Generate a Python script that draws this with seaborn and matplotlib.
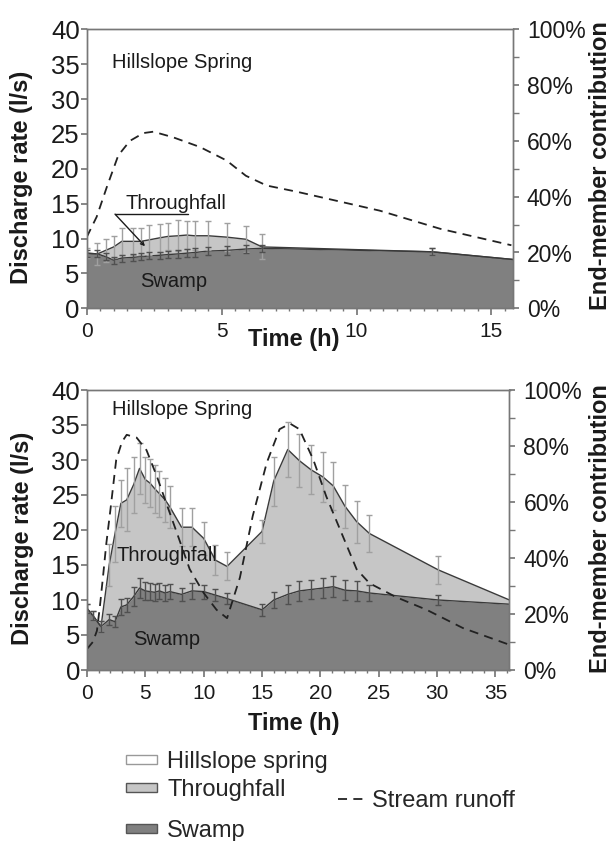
import numpy as np
import pandas as pd
import matplotlib
matplotlib.use("Agg")
import matplotlib.pyplot as plt
import seaborn as sns
from matplotlib.patches import Patch
from matplotlib.lines import Line2D
from matplotlib.ticker import MultipleLocator, FuncFormatter

# ---- data: event 1 (upper panel) ----
top_time = [0, 0.4, 0.7, 1.0, 1.3, 1.7, 2.0, 2.3, 2.7, 3.0, 3.4, 3.7, 4.0, 4.5, 5.2, 5.9, 6.5, 12.8, 15.8]
top_swamp = [7.9, 7.8, 7.4, 6.9, 7.2, 7.3, 7.4, 7.5, 7.6, 7.7, 7.8, 7.9, 8.0, 8.2, 8.3, 8.5, 8.6, 8.1, 7.0]
top_swamp_err = [0.5, 0.5, 0.5, 0.5, 0.5, 0.5, 0.5, 0.5, 0.5, 0.5, 0.6, 0.6, 0.6, 0.6, 0.6, 0.6, 0.5, 0.5, 0]
top_through = [7.9, 7.8, 8.3, 8.8, 9.6, 9.6, 9.6, 9.8, 10.1, 10.3, 10.4, 10.5, 10.4, 10.4, 10.2, 9.9, 8.8, 8.1, 7.0]
top_through_err = [0.7, 1.6, 1.6, 1.6, 1.9, 1.9, 1.9, 2.1, 2.0, 1.9, 2.2, 2.0, 2.1, 2.1, 2.0, 1.9, 1.8, 0.5, 0]
top_runoff_time = [0, 0.37, 0.74, 1.17, 1.6, 2.1, 2.47, 3.2, 4.2, 5.18, 5.9, 6.67, 7.78, 10.86, 13.1, 15.74]
top_runoff = [25.5, 32.8, 43.3, 54.8, 60, 62.8, 63.3, 61.3, 57.8, 53, 47.5, 44, 41.8, 35, 28.5, 22.6]

# ---- data: event 2 (lower panel) ----
bot_time = [0, 0.5, 1.2, 1.9, 2.4, 2.9, 3.4, 4.0, 4.5, 5.0, 5.4, 5.8, 6.2, 6.7, 7.1, 8.1, 9.0, 10.0,
            11.0, 12.0, 15.0, 16.0, 17.2, 18.2, 19.2, 20.2, 21.1, 22.1, 23.1, 24.2, 30.1, 36.2]
bot_swamp = [8.8, 7.8, 6.2, 7.2, 6.9, 9.0, 9.3, 10.5, 11.7, 11.3, 11.2, 11.1, 11.3, 11.0, 11.2, 10.8, 11.3, 11.2,
             10.7, 10.2, 8.6, 10.0, 10.8, 11.3, 11.5, 11.7, 11.9, 11.4, 11.3, 11.0, 10.0, 9.4]
bot_swamp_err = [0.6, 0.6, 0.8, 0.8, 0.8, 1.1, 1.0, 1.3, 1.4, 1.3, 1.2, 1.2, 1.2, 1.2, 1.1, 0.9, 1.1, 1.0,
                 0.9, 0.8, 0.9, 1.1, 1.4, 1.4, 1.4, 1.4, 1.5, 1.4, 1.4, 1.2, 0.7, 0]
bot_through = [8.8, 7.8, 6.2, 15.0, 19.5, 23.8, 24.3, 26.5, 28.8, 27.2, 26.7, 25.9, 25.2, 24.3, 23.3, 20.4, 20.4, 18.8,
               15.7, 14.8, 19.8, 27.0, 31.5, 29.9, 28.6, 27.6, 26.3, 23.4, 21.2, 19.5, 14.3, 10.0]
bot_through_err = [0.6, 0.6, 0.8, 3.0, 4.0, 3.4, 4.5, 4.0, 3.7, 3.3, 3.4, 3.4, 3.3, 3.1, 3.0, 2.7, 2.7, 2.4,
                   2.1, 2.0, 1.7, 3.5, 3.9, 3.8, 3.5, 3.6, 3.4, 3.1, 3.0, 2.6, 2.0, 0]
bot_runoff_time = [0, 0.5, 0.85, 1.1, 1.4, 1.65, 2.0, 2.5, 3.0, 3.4, 4.25, 5.1, 6.0, 6.8, 7.7, 8.8, 10.0, 11.1,
                   12.0, 13.1, 14.2, 15.4, 16.5, 17.4, 18.2, 19.4, 20.5, 21.7, 23.1, 24.2, 26.5, 29.1, 32.2, 36.2]
bot_runoff = [7.5, 10, 14, 22.5, 34.5, 45, 57, 75, 81.5, 84, 83, 78.5, 69, 59.5, 49, 36, 27.5, 21.5,
              18.5, 33, 55, 74, 86, 88, 86, 75, 62, 50, 36, 31, 26, 21.5, 15, 9]

legend_labels = ["Hillslope spring", "Throughfall", "Swamp"]

DARK = "#808080"
LIGHT = "#c6c6c6"
SPINE = "#777777"
INK = "#1a1a1a"
DASH = (0, (5, 3.5))

sns.set_theme(style="ticks")
plt.rcParams['font.family'] = ['Liberation Sans', 'DejaVu Sans']

fig = plt.figure(figsize=(6.12, 8.41), dpi=100)
ax_top = fig.add_axes([86.7 / 612, 1 - 308.3 / 841, 426.3 / 612, 279 / 841])
ax_bot = fig.add_axes([87 / 612, 1 - 670 / 841, 422.5 / 612, 280 / 841])


def draw_panel(ax, t, swamp, s_err, through, t_err, rt, rv, xmax, minor):
    t = np.array(t)
    swamp = np.array(swamp)
    through = np.array(through)
    s_err = np.array(s_err)
    t_err = np.array(t_err)

    ax.fill_between(t, 0, swamp, color=DARK, lw=0, zorder=1)
    ax.fill_between(t, swamp, through, color=LIGHT, lw=0, zorder=1)
    sns.lineplot(x=t, y=through, ax=ax, color="#3a3a3a", lw=1, zorder=2)
    sns.lineplot(x=t, y=swamp, ax=ax, color="#3a3a3a", lw=1, zorder=2)

    m = t_err > 0
    ax.errorbar(t[m], through[m], yerr=t_err[m], fmt="none", ecolor="#a0a0a0",
                elinewidth=1, capsize=2, capthick=1, zorder=3)
    m = s_err > 0
    ax.errorbar(t[m], swamp[m], yerr=s_err[m], fmt="none", ecolor="#505050",
                elinewidth=1, capsize=2, capthick=1, zorder=3)

    ax.set_xlim(0, xmax)
    ax.set_ylim(0, 40)
    ax.xaxis.set_major_locator(MultipleLocator(5))
    ax.xaxis.set_minor_locator(MultipleLocator(minor))
    ax.yaxis.set_major_locator(MultipleLocator(5))
    ax.tick_params(axis="y", which="major", labelsize=18.5, length=4, color=SPINE,
                   labelcolor=INK, pad=1)
    ax.tick_params(axis="x", which="major", labelsize=15, length=5, color=SPINE,
                   labelcolor=INK, pad=5)
    ax.tick_params(axis="x", which="minor", length=2.5, color=SPINE)
    ax.set_ylabel("Discharge rate (l/s)", fontsize=17, fontweight="bold", color=INK)
    ax.yaxis.set_label_coords(-0.125, 0.47)
    for sp in ax.spines.values():
        sp.set_color(SPINE)
        sp.set_linewidth(1)

    axr = ax.twinx()
    sns.lineplot(x=rt, y=rv, ax=axr, color="#222222", lw=1.3, linestyle=DASH)
    axr.set_ylim(0, 100)
    axr.yaxis.set_major_locator(MultipleLocator(20))
    axr.yaxis.set_minor_locator(MultipleLocator(10))
    axr.yaxis.set_major_formatter(FuncFormatter(lambda v, p: f"{v:.0f}%"))
    axr.tick_params(axis="y", which="major", labelsize=16.5, length=4, color=SPINE,
                    labelcolor=INK, pad=6)
    axr.tick_params(axis="y", which="minor", length=4, color=SPINE)
    axr.set_ylabel("")
    for sp in axr.spines.values():
        sp.set_color(SPINE)
        sp.set_linewidth(1)
    return axr


draw_panel(ax_top, top_time, top_swamp, top_swamp_err, top_through, top_through_err,
           top_runoff_time, top_runoff, 15.8, 0.5)
draw_panel(ax_bot, bot_time, bot_swamp, bot_swamp_err, bot_through, bot_through_err,
           bot_runoff_time, bot_runoff, 36.2, 1)

# x labels
ax_top.set_xlabel("Time (h)", fontsize=17, fontweight="bold", color=INK)
ax_top.xaxis.set_label_coords(0.485, -0.07)
ax_bot.set_xlabel("Time (h)", fontsize=17, fontweight="bold", color=INK)
ax_bot.xaxis.set_label_coords(0.49, -0.15)

# right axis titles
for yc in (165.5, 528.5):
    fig.text(600.5 / 612, 1 - yc / 841, "End-member contribution", rotation=90, ha="center",
             va="center", fontsize=17, fontweight="bold", color=INK)

# in-plot labels
ax_top.text(0.93, 35.2, "Hillslope Spring", fontsize=14.5, va="center", color=INK)
ax_top.text(1.42, 15, "Throughfall", fontsize=14.5, va="center", color=INK)
ax_top.plot([1.05, 3.75], [13.5, 13.5], color=INK, lw=1, zorder=4)
ax_top.annotate("", xy=(2.16, 8.9), xytext=(1.05, 13.5),
                arrowprops=dict(arrowstyle="->", color=INK, lw=1, shrinkA=0, shrinkB=0,
                                mutation_scale=6), zorder=4)
ax_top.text(1.97, 3.8, "Swamp", fontsize=14.5, va="center", color=INK)

ax_bot.text(2.1, 37.2, "Hillslope Spring", fontsize=14.5, va="center", color=INK)
ax_bot.text(2.5, 16.4, "Throughfall", fontsize=14.5, va="center", color=INK)
ax_bot.text(3.97, 4.3, "Swamp", fontsize=14.5, va="center", color=INK)

# legend: three area swatches (separate rows) and the dashed runoff line
swatches = [Patch(facecolor="white", edgecolor="#999999", lw=1),
            Patch(facecolor=LIGHT, edgecolor="#555555", lw=1),
            Patch(facecolor=DARK, edgecolor="#555555", lw=1)]
row_y = [762, 790, 831]
for h, lab, yy in zip(swatches, legend_labels, row_y):
    fig.legend([h], [lab], loc="center left", bbox_to_anchor=(126 / 612, 1 - yy / 841),
               frameon=False, fontsize=17, handlelength=1.3, handleheight=0.25,
               handletextpad=0.45, borderpad=0, borderaxespad=0)
fig.legend([Line2D([], [], color="#222222", lw=1.3, linestyle=DASH)], ["Stream runoff"],
           loc="center left", bbox_to_anchor=(338 / 612, 1 - 801 / 841), frameon=False, fontsize=17,
           handlelength=1.25, handletextpad=0.2, borderpad=0, borderaxespad=0)

fig.savefig("out.png", dpi=100)
